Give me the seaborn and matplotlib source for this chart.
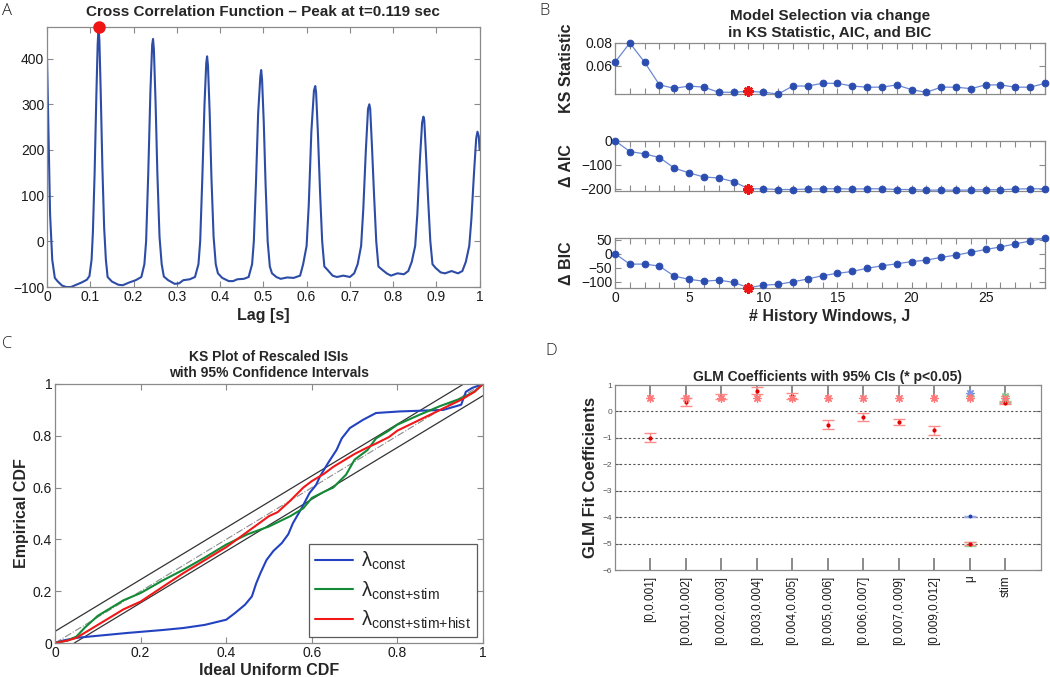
import matplotlib
matplotlib.use("Agg")
import matplotlib.pyplot as plt
import seaborn as sns
import numpy as np

sns.set_theme(style="white")
plt.rcParams['font.family'] = ['Liberation Sans', 'DejaVu Sans']
plt.rcParams['mathtext.fontset'] = 'custom'
plt.rcParams['mathtext.rm'] = 'Liberation Sans'
plt.rcParams['mathtext.it'] = 'Liberation Sans'

# ---------------- data ----------------
# A: cross correlation function
lag_s = [0.000, 0.003, 0.007, 0.012, 0.018, 0.025, 0.035, 0.045, 0.055, 0.065, 0.080, 0.092, 0.098, 0.103,
         0.106, 0.110, 0.114, 0.117, 0.119, 0.121, 0.124, 0.128, 0.132, 0.136, 0.140, 0.150, 0.165, 0.175, 0.190, 0.205, 0.218, 0.225,
         0.229, 0.234, 0.239, 0.243, 0.245, 0.247, 0.251, 0.255, 0.260, 0.265, 0.270, 0.280, 0.295, 0.305, 0.315, 0.330, 0.342, 0.350,
         0.354, 0.359, 0.364, 0.368, 0.370, 0.372, 0.376, 0.380, 0.385, 0.390, 0.395, 0.405, 0.420, 0.430, 0.440, 0.455, 0.466, 0.474,
         0.478, 0.483, 0.488, 0.493, 0.495, 0.497, 0.501, 0.505, 0.510, 0.515, 0.520, 0.530, 0.540, 0.555, 0.570, 0.585, 0.592,
         0.600, 0.605, 0.611, 0.617, 0.620, 0.622, 0.626, 0.631, 0.636, 0.641, 0.648, 0.660, 0.670, 0.685, 0.700, 0.710, 0.718,
         0.726, 0.731, 0.737, 0.742, 0.745, 0.747, 0.751, 0.756, 0.761, 0.766, 0.772, 0.785, 0.795, 0.810, 0.825, 0.835, 0.843,
         0.851, 0.856, 0.862, 0.867, 0.870, 0.872, 0.876, 0.881, 0.886, 0.891, 0.898, 0.910, 0.920, 0.935, 0.950, 0.960, 0.968,
         0.976, 0.981, 0.987, 0.992, 0.995, 0.998, 1.000]
xcorr = [400, 250, 60, -40, -80, -88, -97, -100, -100, -96, -90, -84, -76, -40,
         20, 150, 320, 430, 470, 440, 330, 160, 30, -40, -78, -88, -95, -96, -90, -85, -78, -50,
         0, 150, 330, 430, 443, 420, 300, 150, 10, -50, -77, -85, -93, -92, -85, -83, -78, -50,
         0, 140, 300, 390, 405, 385, 280, 140, 10, -50, -70, -80, -87, -87, -83, -82, -78, -50,
         0, 130, 280, 360, 375, 355, 260, 130, 0, -55, -70, -78, -82, -79, -80, -75, -50,
         -10, 80, 240, 330, 340, 325, 240, 110, 0, -55, -62, -75, -78, -75, -78, -70, -50,
         -10, 70, 200, 290, 300, 290, 210, 100, 0, -55, -60, -70, -75, -70, -72, -65, -45,
         -10, 60, 180, 260, 273, 265, 190, 90, 0, -50, -58, -68, -70, -65, -70, -65, -45,
         -10, 50, 150, 225, 240, 230, 200]
peak_lag = 0.119
peak_val = 470

# B: model selection
hist_windows = list(range(30))
ks_stat = [0.063, 0.080, 0.063, 0.043, 0.040, 0.042, 0.041, 0.0365, 0.0365, 0.0374, 0.0365, 0.035, 0.042, 0.042, 0.0444,
           0.0444, 0.042, 0.041, 0.041, 0.043, 0.0388, 0.0365, 0.041, 0.041, 0.0397, 0.043, 0.043, 0.041, 0.041, 0.0444]
delta_aic = [0, -45, -55, -70, -114, -134, -151, -155, -170, -200, -200, -203, -203, -201, -200,
             -200, -201, -200, -200, -203, -203, -206, -205, -206, -205, -204, -204, -201, -200, -200]
delta_bic = [0, -37, -37, -44, -80, -91, -98, -94, -102, -121, -112, -109, -100, -90, -78,
             -70, -63, -52, -43, -36, -28, -23, -13, -5, 5, 15, 24, 35, 45, 55]
best_j = 9

# C: KS plot
cdf_const_x = [0, 0.02, 0.05, 0.10, 0.17, 0.25, 0.30, 0.35, 0.40, 0.42, 0.444, 0.46, 0.47, 0.48, 0.494, 0.51, 0.53, 0.545,
               0.556, 0.576, 0.595, 0.61, 0.619, 0.638, 0.658, 0.67, 0.689, 0.72, 0.75, 0.805, 0.907, 0.949, 0.96, 0.975, 1.0]
cdf_const_y = [0, 0.01, 0.02, 0.028, 0.039, 0.05, 0.058, 0.07, 0.09, 0.115, 0.148, 0.18, 0.23, 0.27, 0.32, 0.355, 0.386, 0.42,
               0.463, 0.52, 0.58, 0.61, 0.643, 0.695, 0.746, 0.79, 0.83, 0.862, 0.888, 0.894, 0.90, 0.92, 0.97, 0.985, 1.0]
cdf_stim_x = [0, 0.03, 0.05, 0.07, 0.10, 0.13, 0.16, 0.20, 0.25, 0.30, 0.35, 0.40, 0.45, 0.50, 0.55, 0.58, 0.60, 0.63, 0.65,
              0.68, 0.70, 0.73, 0.75, 0.78, 0.80, 0.85, 0.90, 0.95, 0.98, 1.0]
cdf_stim_y = [0, 0.01, 0.025, 0.06, 0.105, 0.135, 0.165, 0.193, 0.24, 0.283, 0.33, 0.38, 0.42, 0.45, 0.49, 0.52, 0.56, 0.585, 0.60,
              0.65, 0.708, 0.745, 0.79, 0.82, 0.843, 0.88, 0.915, 0.945, 0.97, 1.0]
cdf_hist_x = [0, 0.03, 0.05, 0.07, 0.10, 0.13, 0.16, 0.20, 0.25, 0.30, 0.35, 0.40, 0.45, 0.50, 0.52, 0.55, 0.58, 0.60, 0.63, 0.65,
              0.68, 0.70, 0.73, 0.75, 0.78, 0.80, 0.85, 0.90, 0.95, 0.98, 1.0]
cdf_hist_y = [0, 0.01, 0.02, 0.04, 0.07, 0.10, 0.13, 0.16, 0.215, 0.27, 0.32, 0.37, 0.43, 0.49, 0.505, 0.55, 0.6, 0.625, 0.655, 0.68,
              0.71, 0.73, 0.755, 0.77, 0.795, 0.82, 0.86, 0.90, 0.94, 0.97, 1.0]
ci_upper_x = [0, 0.955]
ci_upper_y = [0.045, 1.0]
ci_lower_x = [0.045, 1.0]
ci_lower_y = [0, 0.955]
model_labels = [r'$\lambda_{\mathrm{const}}$', r'$\lambda_{\mathrm{const{+}stim}}$', r'$\lambda_{\mathrm{const{+}stim{+}hist}}$']

# D: GLM coefficients
coef_names = ['[0,0.001]', '[0.001,0.002]', '[0.002,0.003]', '[0.003,0.004]', '[0.004,0.005]', '[0.005,0.006]',
              '[0.006,0.007]', '[0.007,0.009]', '[0.009,0.012]', 'μ', 'stim']
coef_hist = [-1.0, 0.35, 0.56, 0.79, 0.59, -0.5, -0.22, -0.4, -0.72, -5.0, 0.33]
ci_hist = [0.17, 0.16, 0.09, 0.12, 0.11, 0.17, 0.15, 0.11, 0.17, 0.05, 0.03]
coef_stim = [-5.02, 0.36]
ci_stim = [0.07, 0.05]
coef_const = [-3.97]
ci_const = [0.03]
sig_hist_y = 0.5
sig_stim_y = 0.6
sig_const_y = 0.7

# ---------------- styling helpers ----------------
BLUE = '#2d4ca6'
SPINE = '#8a8a8a'


def matlab_axes(ax, labelsize=10):
    for s in ax.spines.values():
        s.set_visible(True)
        s.set_color(SPINE)
        s.set_linewidth(0.9)
    ax.tick_params(direction='in', top=True, right=True, bottom=True, left=True,
                   length=4, width=0.8, color=SPINE, labelsize=labelsize, pad=2,
                   labelcolor='#1a1a1a')


fig = plt.figure(figsize=(10.5, 6.77), dpi=100)

# ---------------- A ----------------
axA = fig.add_axes([0.0448, 0.576, 0.412, 0.384])
sns.lineplot(x=lag_s, y=xcorr, ax=axA, color=BLUE, lw=1.5, sort=False, estimator=None)
axA.plot(peak_lag, peak_val, 'o', color='#f01515', ms=8, clip_on=False, zorder=5)
axA.set_xlim(0, 1)
axA.set_ylim(-100, 469)
xt = np.round(np.arange(0, 1.01, 0.1), 1)
axA.set_xticks(xt)
axA.set_xticklabels([f'{v:g}' for v in xt])
axA.set_yticks([-100, 0, 100, 200, 300, 400])
matlab_axes(axA, 10)
axA.set_xlabel('Lag [s]', fontsize=11.5, fontweight='bold', labelpad=3)
axA.set_title('Cross Correlation Function \u2013 Peak at t=0.119 sec', fontsize=11, fontweight='bold', pad=8)

# ---------------- B ----------------
bx = 0.5857
bw = 0.4095
axKS = fig.add_axes([bx, 0.8612, bw, 0.0753])
axAIC = fig.add_axes([bx, 0.7183, bw, 0.0739])
axBIC = fig.add_axes([bx, 0.5746, bw, 0.0739])
for ax, vals in [(axKS, ks_stat), (axAIC, delta_aic), (axBIC, delta_bic)]:
    sns.lineplot(x=hist_windows, y=vals, ax=ax, color='#6a88d4', lw=0.9, marker='o', ms=4.8,
                 markerfacecolor='#2c4db0', markeredgecolor='#2c4db0', clip_on=False, zorder=3)
    ax.plot(best_j, vals[best_j], marker=(8, 2, 0), color='#f01515', ms=7.5, mew=1.8, clip_on=False, zorder=5)
    ax.set_xlim(0, 29)
    ax.set_xticks(range(0, 30))
    matlab_axes(ax, 10)
    ax.tick_params(axis='x', length=4)
axKS.set_ylim(0.035, 0.08)
axKS.set_yticks([0.06, 0.08])
axKS.set_yticklabels(['0.06', '0.08'])
axAIC.set_ylim(-208, 0)
axAIC.set_yticks([-200, -100, 0])
axBIC.set_ylim(-122, 56)
axBIC.set_yticks([-100, -50, 0, 50])
for ax in (axKS, axAIC):
    ax.set_xticklabels([])
axBIC.set_xticklabels([str(j) if j % 5 == 0 else '' for j in range(30)])
axBIC.set_xlabel('# History Windows, J', fontsize=11.5, fontweight='bold', labelpad=3)
axKS.set_ylabel('KS Statistic', fontsize=11.5, fontweight='bold')
axAIC.set_ylabel('\u0394 AIC', fontsize=11.5, fontweight='bold')
axBIC.set_ylabel('\u0394 BIC', fontsize=11.5, fontweight='bold')
for ax in (axKS, axAIC, axBIC):
    ax.yaxis.set_label_coords(-0.095, 0.5)
axKS.set_title('Model Selection via change\nin KS Statistic, AIC, and BIC', fontsize=11,
               fontweight='bold', pad=5, linespacing=1.15)

# ---------------- C ----------------
axC = fig.add_axes([0.0524, 0.0502, 0.4076, 0.3826])
axC.plot([0, 1], [0, 1], color='#8a8a8a', lw=0.8, ls='-.')
axC.plot(ci_upper_x, ci_upper_y, color='#333333', lw=0.9)
axC.plot(ci_lower_x, ci_lower_y, color='#333333', lw=0.9)
sns.lineplot(x=cdf_const_x, y=cdf_const_y, ax=axC, color='#2342c0', lw=1.5, sort=False, estimator=None,
             label=model_labels[0])
sns.lineplot(x=cdf_stim_x, y=cdf_stim_y, ax=axC, color='#138a35', lw=1.5, sort=False, estimator=None,
             label=model_labels[1])
sns.lineplot(x=cdf_hist_x, y=cdf_hist_y, ax=axC, color='#f01818', lw=1.5, sort=False, estimator=None,
             label=model_labels[2])
axC.set_xlim(0, 1)
axC.set_ylim(0, 1)
ct = np.round(np.arange(0, 1.01, 0.2), 1)
axC.set_xticks(ct)
axC.set_xticklabels([f'{v:g}' for v in ct])
axC.set_yticks(ct)
axC.set_yticklabels([f'{v:g}' for v in ct])
matlab_axes(axC, 10)
axC.set_xlabel('Ideal Uniform CDF', fontsize=11.5, fontweight='bold', labelpad=2)
axC.set_ylabel('Empirical CDF', fontsize=11.5, fontweight='bold', labelpad=3)
axC.set_title('KS Plot of Rescaled ISIs\nwith 95% Confidence Intervals', fontsize=10,
              fontweight='bold', pad=5, linespacing=1.15)
leg = axC.legend(loc='lower right', bbox_to_anchor=(0.986, 0.023), borderaxespad=0, fontsize=14.5,
                 frameon=True, fancybox=False, handlelength=1.9, labelspacing=0.35, borderpad=0.3,
                 handletextpad=0.4)
leg.get_frame().set_edgecolor('#333333')
leg.get_frame().set_linewidth(0.9)

# ---------------- D ----------------
axD = fig.add_axes([0.5857, 0.158, 0.4057, 0.2733])
pos = np.arange(1, len(coef_names) + 1)
for yv in range(-5, 1):
    axD.axhline(yv, color='#555555', lw=0.8, ls=(0, (2, 2)), zorder=1)
axD.errorbar(pos, coef_hist, yerr=ci_hist, fmt='none', ecolor='#ff8a8a', elinewidth=1.0, capsize=4, zorder=3)
sns.scatterplot(x=pos, y=coef_hist, ax=axD, color='#e00000', s=9, linewidth=0, zorder=4)
axD.errorbar(pos[-2:], coef_stim, yerr=ci_stim, fmt='none', ecolor='#8fd49f', elinewidth=1.0, capsize=4, zorder=2)
sns.scatterplot(x=pos[-2:], y=coef_stim, ax=axD, color='#3aa050', s=8, linewidth=0, zorder=2)
axD.errorbar(pos[-2:-1], coef_const, yerr=ci_const, fmt='none', ecolor='#9aaae0', elinewidth=1.0, capsize=4, zorder=2)
sns.scatterplot(x=pos[-2:-1], y=coef_const, ax=axD, color='#2040b0', s=8, linewidth=0, zorder=4)
# significance stars
axD.plot(pos, [sig_hist_y] * len(pos), ls='none', marker=(8, 2, 0), ms=6, mew=0.9, color='#ff7a7a', zorder=5)
axD.plot(pos[-2:], [sig_stim_y] * 2, ls='none', marker=(8, 2, 0), ms=6, mew=0.9, color='#7fcf8f', zorder=4)
axD.plot(pos[-2:-1], [sig_const_y], ls='none', marker=(8, 2, 0), ms=6, mew=0.9, color='#7f95e0', zorder=4)
axD.set_xlim(0, 12)
axD.set_ylim(-6, 1)
axD.set_xticks(pos)
axD.set_xticklabels(coef_names, rotation=90, fontsize=8.5)
axD.set_yticks(range(-6, 2))
matlab_axes(axD, 6)
axD.tick_params(axis='y', labelcolor='#555555', labelsize=6, length=4)
axD.tick_params(axis='x', length=9, width=1.2, color='#777777', labelsize=8.5, pad=4)
axD.set_ylabel('GLM Fit Coefficients', fontsize=12, fontweight='bold', labelpad=3)
axD.set_title('GLM Coefficients with 95% CIs (* p<0.05)', fontsize=10, fontweight='bold', pad=3)

# ---------------- panel letters ----------------
for txt, x, y in [('A', 0.002, 0.995), ('B', 0.514, 0.995), ('C', 0.002, 0.503), ('D', 0.519, 0.494)]:
    fig.text(x, y, txt, fontsize=12, family=['Open Sans', 'DejaVu Sans'], fontweight='light',
             ha='left', va='top', color='#222222')

fig.savefig('out.png', dpi=100)
